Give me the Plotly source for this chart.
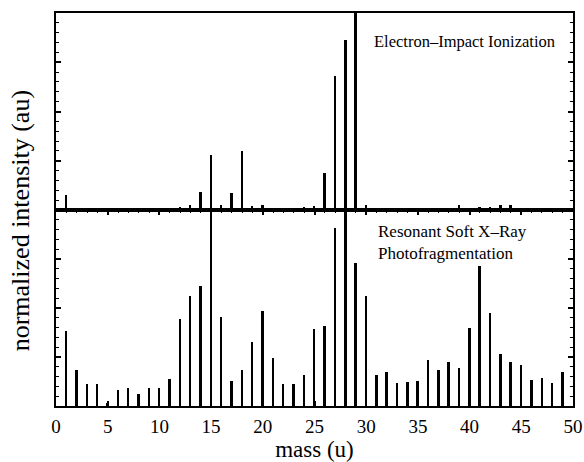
import plotly.graph_objects as go
from plotly.subplots import make_subplots

masses = list(range(1, 50))

# Electron-impact ionization spectrum (top panel), normalized units
ei_intensity = [7.6, 1.0, 0, 0, 0, 0, 0, 0, 0, 0,
                0, 1.5, 2.5, 9.0, 28.0, 2.5, 8.8, 30.0, 2.2, 2.5,
                0, 0, 0, 1.5, 2.2, 19.0, 68.0, 86.3, 107.0, 2.5,
                0.5, 0.5, 0.5, 0, 0, 1.0, 1.0, 1.0, 2.5, 0,
                1.5, 1.5, 2.5, 2.5, 0, 0.8, 0.8, 0.8, 0.8]

# Resonant soft X-ray photofragmentation spectrum (bottom panel)
sx_intensity = [38.3, 18.4, 11.4, 11.0, 1.7, 8.2, 9.4, 6.0, 9.4, 9.4,
                13.6, 44.4, 56.0, 61.0, 110.0, 45.4, 12.6, 18.4, 32.7, 48.3,
                24.5, 11.0, 11.0, 16.0, 39.4, 40.8, 91.0, 110.0, 72.8, 56.0,
                16.0, 17.5, 11.6, 12.2, 12.6, 23.5, 18.5, 22.3, 19.2, 40.0,
                71.6, 47.6, 26.5, 22.6, 21.0, 13.3, 14.3, 11.6, 17.5]

x_ticks = [0, 5, 10, 15, 20, 25, 30, 35, 40, 45, 50]

FONT = "Liberation Serif"

fig = make_subplots(rows=2, cols=1, shared_xaxes=False, vertical_spacing=0,
                    row_heights=[0.5013, 0.4987])

fig.add_trace(go.Bar(x=masses, y=ei_intensity, width=0.19,
                     marker=dict(color="black", line=dict(width=0)),
                     cliponaxis=False, showlegend=False), row=1, col=1)
fig.add_trace(go.Bar(x=masses, y=sx_intensity, width=0.19,
                     marker=dict(color="black", line=dict(width=0)),
                     showlegend=False), row=2, col=1)

common_y = dict(range=[0, 100], showline=True, linecolor="black", linewidth=2,
                mirror="ticks", ticks="inside", ticklen=5, tickwidth=1.5,
                tickcolor="black", dtick=25, tick0=0, showticklabels=False,
                showgrid=False, zeroline=False, automargin=False,
                minor=dict(ticks="inside", ticklen=3, tickwidth=1.2,
                           tickcolor="black", dtick=5, showgrid=False))

fig.update_yaxes(**common_y, row=1, col=1)
fig.update_yaxes(**common_y, row=2, col=1)

fig.update_xaxes(range=[0, 50], showline=True, linecolor="black", linewidth=2,
                 mirror=True, ticks="", showticklabels=False, showgrid=False,
                 zeroline=False, automargin=False, row=1, col=1)
fig.update_xaxes(range=[0, 50], showline=True, linecolor="black", linewidth=2,
                 mirror="ticks", ticks="inside", ticklen=5, tickwidth=1.5,
                 tickcolor="black", tickvals=x_ticks,
                 ticktext=[str(v) for v in x_ticks],
                 tickfont=dict(family=FONT, size=19, color="black"),
                 ticklabelstandoff=2, automargin=False,
                 showgrid=False, zeroline=False,
                 minor=dict(ticks="inside", ticklen=3, tickwidth=1.2,
                            tickcolor="black", dtick=1, tick0=0, showgrid=False),
                 title=dict(text="mass (u)", standoff=4,
                            font=dict(family=FONT, size=23, color="black")),
                 row=2, col=1)

fig.add_annotation(text="normalized intensity (au)", textangle=-90,
                   xref="paper", yref="paper", x=-0.0696, y=0.47,
                   xanchor="center", yanchor="middle", showarrow=False,
                   font=dict(family=FONT, size=26, color="black"))

fig.add_annotation(text="Electron\u2013Impact Ionization",
                   xref="paper", yref="paper", x=0.611, y=0.927,
                   xanchor="left", yanchor="middle", showarrow=False,
                   font=dict(family=FONT, size=16.5, color="black"))

fig.add_annotation(text="Resonant Soft X\u2013Ray<br>Photofragmentation",
                   xref="paper", yref="paper", x=0.619, y=0.416,
                   xanchor="left", yanchor="middle", align="left",
                   showarrow=False,
                   font=dict(family=FONT, size=17, color="black"))

fig.update_layout(width=584, height=462,
                  margin=dict(l=56, r=11, t=13, b=56),
                  paper_bgcolor="white", plot_bgcolor="white",
                  bargap=0, font=dict(family=FONT, color="black"))

fig.write_html("out.html", config={"displayModeBar": False},
               post_script="document.body.style.margin='0px';document.body.style.overflow='hidden';")
